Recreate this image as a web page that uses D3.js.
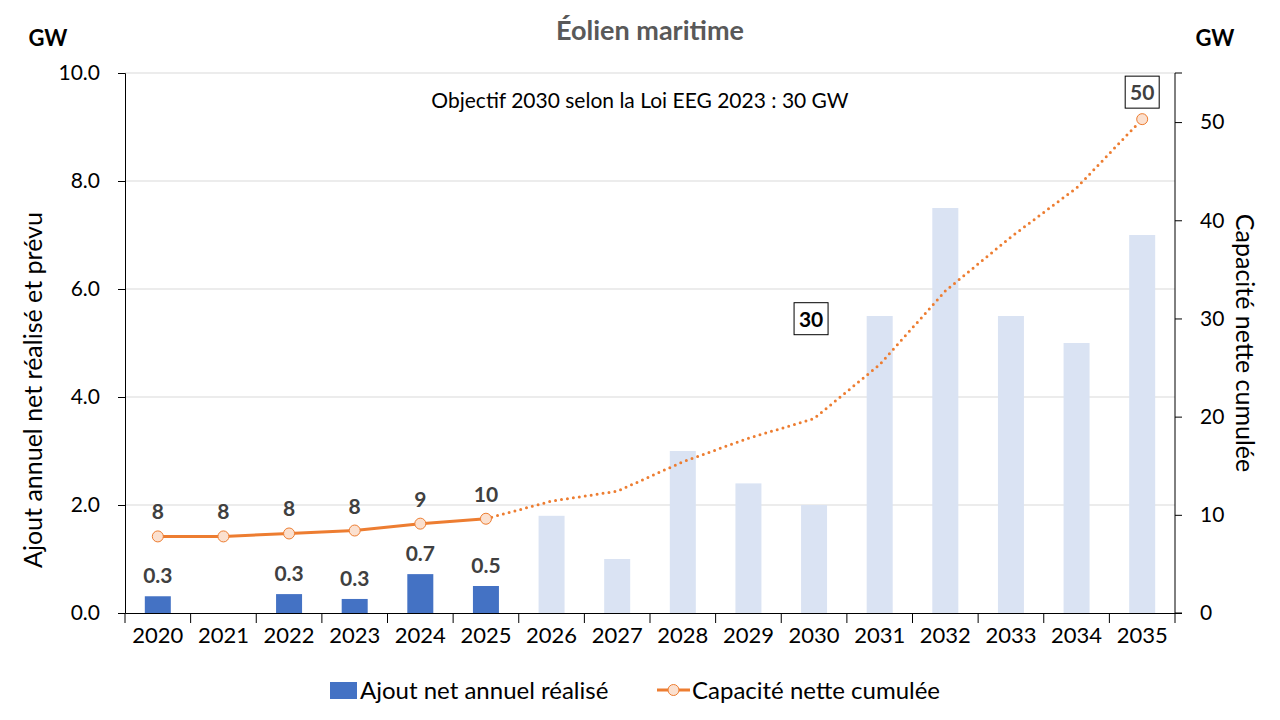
<!DOCTYPE html>
<html>
<head>
<meta charset="utf-8">
<script src="https://cdn.jsdelivr.net/npm/d3@7"></script>
<style>
  body { margin: 0; background: #fff; }
  svg text { font-family: Lato, "Open Sans", sans-serif; }
</style>
</head>
<body>
<div id="chart"></div>
<script>
// annual net additions (GW), realised 2020-2025, planned after
const years = ["2020","2021","2022","2023","2024","2025","2026","2027","2028","2029","2030","2031","2032","2033","2034","2035"]
const annual = [0.31, 0, 0.35, 0.26, 0.72, 0.5, 1.8, 1.0, 3.0, 2.4, 2.0, 5.5, 7.5, 5.5, 5.0, 7.0]
const realised = [true, true, true, true, true, true, false, false, false, false, false, false, false, false, false, false]
const annualLabels = ["0.3", "", "0.3", "0.3", "0.7", "0.5"]
// cumulative net capacity (GW)
const cumul = [7.8, 7.8, 8.1, 8.4, 9.1, 9.6, 11.4, 12.4, 15.4, 17.8, 19.8, 25.3, 32.8, 38.3, 43.3, 50.3]
const cumulLabels = ["8", "8", "8", "8", "9", "10"]
const leftTicks = [0, 2, 4, 6, 8, 10]
const rightTicks = [0, 10, 20, 30, 40, 50]

const width = 1280, height = 720
const m = {top: 73, right: 105, bottom: 107, left: 125}

const svg = d3.select("#chart").append("svg")
  .attr("width", width).attr("height", height)

const band = d3.scaleBand().domain(years).range([m.left, width - m.right])
const y = d3.scaleLinear().domain([0, 10]).range([height - m.bottom, m.top])
const y2 = d3.scaleLinear().domain([0, 55]).range([height - m.bottom, m.top])

// gridlines
svg.append("g")
  .selectAll("line").data(leftTicks.slice(1)).enter().append("line")
  .attr("x1", m.left).attr("x2", width - m.right)
  .attr("y1", d => y(d)).attr("y2", d => y(d))
  .attr("stroke", "#d9d9d9").attr("stroke-width", 1)

// bars
svg.append("g").selectAll("rect").data(years).enter().append("rect")
  .attr("x", d => band(d) + (band.bandwidth() - 26) / 2)
  .attr("width", 26)
  .attr("y", (d, i) => y(annual[i]))
  .attr("height", (d, i) => y(0) - y(annual[i]))
  .attr("fill", (d, i) => realised[i] ? "#4472c4" : "#dae3f3")

svg.append("g").selectAll("text").data(annualLabels).enter().append("text")
  .attr("x", (d, i) => band(years[i]) + band.bandwidth() / 2)
  .attr("y", (d, i) => y(annual[i]) - 13)
  .attr("text-anchor", "middle")
  .attr("font-size", 21).attr("font-weight", "bold").attr("fill", "#404040")
  .text(d => d)

// axes
const cx = d => band(d) + band.bandwidth() / 2
const xAxis = d3.axisBottom(band).tickSize(0).tickPadding(14)
const gx = svg.append("g").attr("transform", `translate(0,${y(0)})`).call(xAxis)
gx.select(".domain").attr("stroke", "#000")
gx.selectAll("text").attr("font-size", 22).attr("fill", "#000")
  .style("font-family", "Lato, sans-serif")
gx.selectAll(".sep").data(years.concat(["end"])).enter().append("line")
  .attr("x1", (d, i) => m.left + i * band.bandwidth())
  .attr("x2", (d, i) => m.left + i * band.bandwidth())
  .attr("y1", 0).attr("y2", 10).attr("stroke", "#000")

const gy = svg.append("g").attr("transform", `translate(${m.left},0)`)
  .call(d3.axisLeft(y).tickValues(leftTicks).tickFormat(d3.format(".1f")).tickSize(7).tickPadding(18))
gy.select(".domain").attr("stroke", "#000")
gy.selectAll("text").attr("font-size", 21).attr("fill", "#000").style("font-family", "Lato, sans-serif")

const gy2 = svg.append("g").attr("transform", `translate(${width - m.right},0)`)
  .call(d3.axisRight(y2).tickValues(rightTicks).tickSize(7).tickPadding(18))
gy2.select(".domain").attr("stroke", "#000")
gy2.selectAll("text").attr("font-size", 21).attr("fill", "#000").style("font-family", "Lato, sans-serif")
// extend right domain to top
gy2.select(".domain").attr("d", `M7,${y2(0)}H0V${m.top}H7`)

// cumulative line: solid realised, dotted forecast
const line = d3.line().x(d => cx(d.year)).y(d => y2(d.v))
const pts = years.map((yr, i) => ({year: yr, v: cumul[i]}))
svg.append("path").datum(pts.slice(0, 6)).attr("d", line)
  .attr("fill", "none").attr("stroke", "#ed7d31").attr("stroke-width", 3)
svg.append("path").datum(pts.slice(5)).attr("d", line)
  .attr("fill", "none").attr("stroke", "#ed7d31").attr("stroke-width", 3)
  .attr("stroke-dasharray", "0 6").attr("stroke-linecap", "round")

const markers = pts.slice(0, 6).concat([pts[15]])
svg.append("g").selectAll("circle").data(markers).enter().append("circle")
  .attr("cx", d => cx(d.year)).attr("cy", d => y2(d.v)).attr("r", 5.5)
  .attr("fill", "#fbe0cf").attr("stroke", "#ed7d31").attr("stroke-width", 1)

svg.append("g").selectAll("text").data(cumulLabels).enter().append("text")
  .attr("x", (d, i) => cx(years[i]))
  .attr("y", (d, i) => y2(cumul[i]) - 17)
  .attr("text-anchor", "middle")
  .attr("font-size", 21).attr("font-weight", "bold").attr("fill", "#404040")
  .text(d => d)

// boxed labels
function boxLabel(px, py, txt, color) {
  const g = svg.append("g")
  g.append("rect").attr("x", px - 17).attr("y", py - 16).attr("width", 34).attr("height", 32)
    .attr("fill", "#fff").attr("stroke", "#000").attr("stroke-width", 1)
  g.append("text").attr("x", px).attr("y", py + 8).attr("text-anchor", "middle")
    .attr("font-size", 21).attr("font-weight", "bold").attr("fill", color).text(txt)
}
boxLabel(cx("2035"), y2(cumul[15]) - 27, "50", "#404040")
boxLabel(cx("2030") - 3, y(5.45), "30", "#000")

// texts
svg.append("text").attr("x", 650).attr("y", 40).attr("text-anchor", "middle")
  .attr("font-size", 27).attr("font-weight", "bold").attr("fill", "#595959").text("Éolien maritime")
svg.append("text").attr("x", 48).attr("y", 46).attr("text-anchor", "middle")
  .attr("font-size", 22).attr("font-weight", "bold").text("GW")
svg.append("text").attr("x", 1215).attr("y", 46).attr("text-anchor", "middle")
  .attr("font-size", 22).attr("font-weight", "bold").text("GW")
svg.append("text").attr("x", 640).attr("y", 108).attr("text-anchor", "middle")
  .attr("font-size", 21).attr("fill", "#000").text("Objectif 2030 selon la Loi EEG 2023 : 30 GW")
svg.append("text").attr("transform", "translate(42,390) rotate(-90)").attr("text-anchor", "middle")
  .attr("font-size", 25).text("Ajout annuel net réalisé et prévu")
svg.append("text").attr("transform", "translate(1236,343) rotate(90)").attr("text-anchor", "middle")
  .attr("font-size", 25).text("Capacité nette cumulée")

// legend
const lg = svg.append("g")
lg.append("rect").attr("x", 330).attr("y", 682).attr("width", 27).attr("height", 17).attr("fill", "#4472c4")
lg.append("text").attr("x", 360).attr("y", 699).attr("font-size", 24).text("Ajout net annuel réalisé")
lg.append("line").attr("x1", 657).attr("x2", 690).attr("y1", 690).attr("y2", 690)
  .attr("stroke", "#ed7d31").attr("stroke-width", 3)
lg.append("circle").attr("cx", 673.5).attr("cy", 690).attr("r", 5.5)
  .attr("fill", "#fbe0cf").attr("stroke", "#ed7d31")
lg.append("text").attr("x", 692).attr("y", 699).attr("font-size", 24).text("Capacité nette cumulée")
</script>
</body>
</html>
